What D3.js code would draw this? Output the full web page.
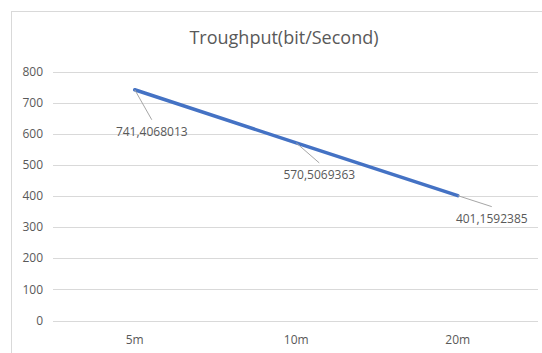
<!DOCTYPE html>
<html>
<head>
<meta charset="utf-8">
<title>Troughput</title>
<script src="https://cdn.jsdelivr.net/npm/d3@7"></script>
<style>
	body{margin:0;background:#fff;}
	text{font-family:"Open Sans",sans-serif;fill:#595959;}
</style>
</head>
<body>
<script>
var categories=["5m","10m","20m"];
var values=[741.4068013,570.5069363,401.1592385];
var labels=["741,4068013","570,5069363","401,1592385"];
var yTicks=[0,100,200,300,400,500,600,700,800];
var title="Troughput(bit/Second)";

var width=542,height=353;
// where each data label sits, relative to its point (dx,dy)
var labelOff=[[17,42],[23,32],[34,23]];

var svg=d3.select("body").append("svg")
	.attr("width",width)
	.attr("height",height);

svg.append("rect")
	.attr("x",11.5).attr("y",11.5)
	.attr("width",600).attr("height",400)
	.attr("fill","#fff")
	.attr("stroke","#d9d9d9");

var x=d3.scaleBand().domain(categories).range([54,538.5]);
var y=d3.scaleLinear().domain([0,800]).range([320.5,71.5]);

//网格线
svg.append("g").selectAll("line")
	.data(yTicks).enter().append("line")
	.attr("x1",53).attr("x2",538)
	.attr("y1",function(d){return Math.round(y(d))+0.5;})
	.attr("y2",function(d){return Math.round(y(d))+0.5;})
	.attr("stroke","#d9d9d9").attr("stroke-width",1);

svg.append("g").selectAll("text")
	.data(yTicks).enter().append("text")
	.attr("x",43)
	.attr("y",function(d){return y(d);})
	.attr("dy","0.35em")
	.attr("text-anchor","end")
	.style("font-size","12px")
	.text(function(d){return d;});

svg.append("g").selectAll("text")
	.data(categories).enter().append("text")
	.attr("x",function(d){return x(d)+x.bandwidth()/2;})
	.attr("y",340)
	.attr("dy","0.35em")
	.attr("text-anchor","middle")
	.style("font-size","12px")
	.text(function(d){return d;});

svg.append("text")
	.attr("x",284).attr("y",38)
	.attr("dy","0.35em")
	.attr("text-anchor","middle")
	.style("font-size","18px")
	.text(title);

var pts=categories.map(function(c,i){
	return {x:x(c)+x.bandwidth()/2,y:y(values[i]),label:labels[i],off:labelOff[i]};
});

var line=d3.line().x(function(d){return d.x;}).y(function(d){return d.y;});
svg.append("path")
	.datum(pts)
	.attr("d",line)
	.attr("fill","none")
	.attr("stroke","#4472c4")
	.attr("stroke-width",3.5)
	.attr("stroke-linecap","round");

//数据标签和引导线
svg.append("g").selectAll("line")
	.data(pts).enter().append("line")
	.attr("x1",function(d){return d.x;})
	.attr("y1",function(d){return d.y;})
	.attr("x2",function(d){return d.x+d.off[0];})
	.attr("y2",function(d){return d.y+d.off[1]-12;})
	.attr("stroke","#a6a6a6").attr("stroke-width",1);

svg.append("g").selectAll("text")
	.data(pts).enter().append("text")
	.attr("x",function(d){return d.x+d.off[0];})
	.attr("y",function(d){return d.y+d.off[1];})
	.attr("dy","0.35em")
	.attr("text-anchor","middle")
	.style("font-size","12px")
	.text(function(d){return d.label;});
</script>
</body>
</html>
